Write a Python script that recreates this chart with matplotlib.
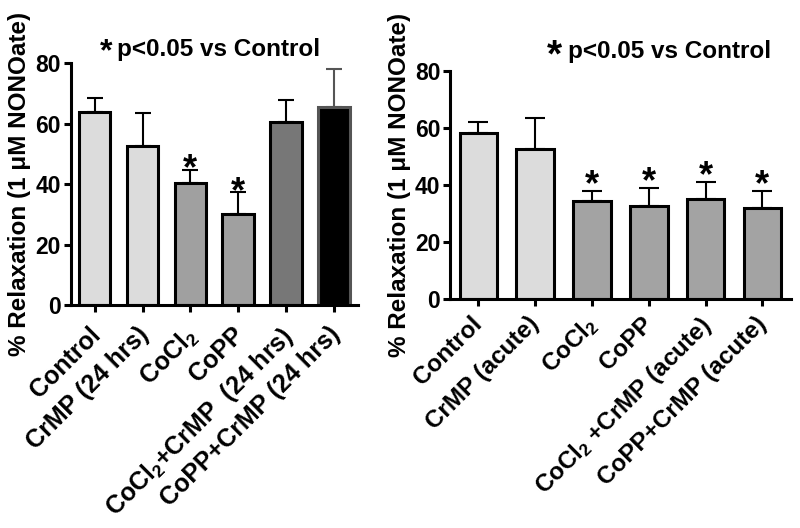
"""Relaxation to 1 uM NONOate: 24 h pre-treatment vs acute treatment."""

import matplotlib

matplotlib.use("Agg")
import matplotlib.pyplot as plt

plt.rcParams["font.family"] = ["Liberation Sans", "DejaVu Sans"]
plt.rcParams["font.weight"] = "bold"
plt.rcParams["mathtext.fontset"] = "custom"
plt.rcParams["mathtext.rm"] = "Liberation Sans:bold"
plt.rcParams["mathtext.bf"] = "Liberation Sans:bold"
plt.rcParams["mathtext.default"] = "rm"

# left panel: 24 hour pre-treatment
labels_24h = [
    "Control",
    "CrMP (24 hrs)",
    "CoCl$_2$",
    "CoPP",
    "CoCl$_2$+CrMP  (24 hrs)",
    "CoPP+CrMP (24 hrs)",
]
means_24h = [64.0, 52.5, 40.5, 30.0, 60.7, 65.5]
sem_24h = [4.5, 11.0, 4.2, 7.3, 7.2, 12.6]
sig_24h = [False, False, True, True, False, False]
fills_24h = ["#dcdcdc", "#dcdcdc", "#a0a0a0", "#a0a0a0", "#777777", "#000000"]
edges_24h = ["black", "black", "black", "black", "black", "#555555"]

# right panel: acute treatment
labels_acute = [
    "Control",
    "CrMP (acute)",
    "CoCl$_2$",
    "CoPP",
    "CoCl$_2$ +CrMP (acute)",
    "CoPP+CrMP (acute)",
]
means_acute = [58.0, 52.5, 34.5, 32.5, 35.2, 31.8]
sem_acute = [3.9, 10.9, 3.5, 6.3, 5.7, 5.9]
sig_acute = [False, False, True, True, True, True]
fills_acute = ["#dcdcdc", "#dcdcdc", "#a3a3a3", "#a3a3a3", "#a3a3a3", "#a3a3a3"]
edges_acute = ["black"] * 6

YLABEL = "% Relaxation (1 \u03bcM NONOate)"

fig = plt.figure(figsize=(8, 5.28), dpi=100)
ax_l = fig.add_axes([0.0884, 0.4223, 0.359, 0.458])
ax_r = fig.add_axes([0.5625, 0.4337, 0.426, 0.4324])


def draw(ax, labels, means, sem, sig, fills, edges, capsize, star_pad,
         label_off, label_size):
    x = list(range(len(means)))
    ax.bar(x, means, width=0.66, color=fills, edgecolor=edges,
           linewidth=2.2, zorder=2)
    for i in x:
        ecol = "#555555" if edges[i] != "black" else "black"
        ax.errorbar(i, means[i], yerr=[[0], [sem[i]]], fmt="none",
                    ecolor=ecol, elinewidth=1.5, capsize=capsize,
                    capthick=1.5, zorder=1)
        if sig[i]:
            ax.annotate("*", xy=(i, means[i] + sem[i]), xytext=(0, star_pad),
                        textcoords="offset points", ha="center",
                        va="baseline", fontsize=26, fontweight="bold")
        # slanted category label, its end tucked under the tick
        ax.annotate(labels[i], xy=(i, 0), xycoords=("data", "axes fraction"),
                    xytext=label_off, textcoords="offset points",
                    rotation=45, rotation_mode="anchor", ha="right",
                    va="top", fontsize=label_size, fontweight="bold",
                    annotation_clip=False)
    ax.set_xlim(-0.5, 5.5)
    ax.set_ylim(0, 80)
    ax.set_yticks([0, 20, 40, 60, 80])
    ax.set_xticks(x)
    ax.set_xticklabels([])
    for t in ax.get_yticklabels():
        t.set_fontsize(16.5)
        t.set_fontweight("bold")
    ax.tick_params(axis="both", direction="out", length=5, width=2.2, pad=2)
    ax.spines[["top", "right"]].set_visible(False)
    ax.spines[["left", "bottom"]].set_linewidth(2.2)
    ax.set_ylabel(YLABEL, fontsize=17.5, fontweight="bold", labelpad=3)


draw(ax_l, labels_24h, means_24h, sem_24h, sig_24h, fills_24h, edges_24h,
     capsize=6, star_pad=-7, label_off=(-4.5, -12.5), label_size=18)
draw(ax_r, labels_acute, means_acute, sem_acute, sig_acute, fills_acute,
     edges_acute, capsize=7.5, star_pad=-3, label_off=(-5.5, -9.5),
     label_size=17.5)

fig.text(0.125, 0.885, "*", fontsize=23, fontweight="bold", va="baseline")
fig.text(0.146, 0.893, "p<0.05 vs Control", fontsize=17.5,
         fontweight="bold", va="baseline")
fig.text(0.684, 0.874, "*", fontsize=28, fontweight="bold", va="baseline")
fig.text(0.71, 0.891, "p<0.05 vs Control", fontsize=17.5,
         fontweight="bold", va="baseline")

fig.savefig("out.png", dpi=100)
